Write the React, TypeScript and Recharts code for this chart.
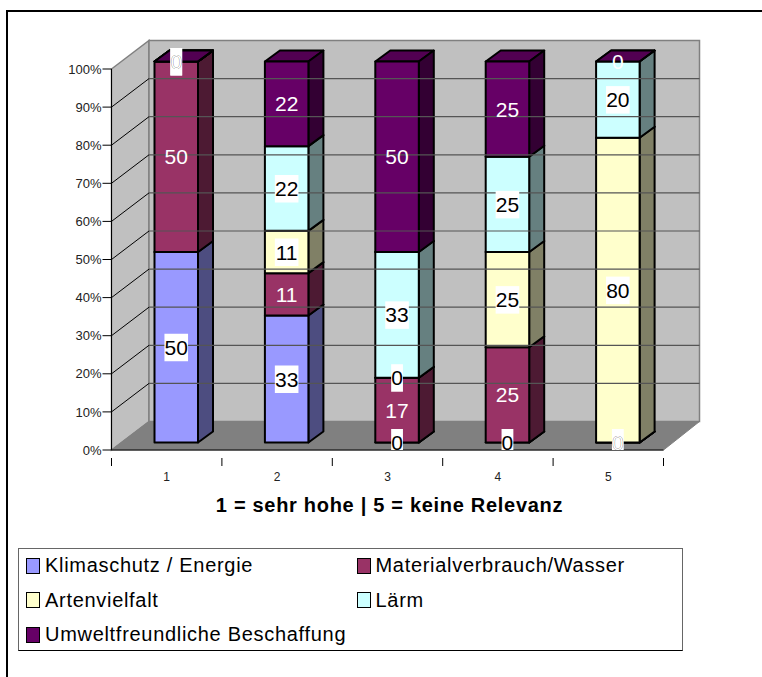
import { BarChart, Bar, XAxis, YAxis, ReferenceArea, ReferenceLine, LabelList, Legend } from "recharts";

const FONT = "'Liberation Sans', Arial, sans-serif";

const categories = ["1", "2", "3", "4", "5"];
const klima = [50, 33, 0, 0, 0];
const material = [50, 11, 17, 25, 0];
const arten = [0, 11, 0, 25, 80];
const laerm = [0, 22, 33, 25, 20];
const umwelt = [0, 22, 50, 25, 0];
const yTicks = [0, 0.1, 0.2, 0.3, 0.4, 0.5, 0.6, 0.7, 0.8, 0.9, 1];

const data = categories.map((name, i) => ({
  name,
  klima: klima[i],
  material: material[i],
  arten: arten[i],
  laerm: laerm[i],
  umwelt: umwelt[i],
}));

const SERIES = [
  { key: "klima", label: "Klimaschutz / Energie", fill: "#9999ff", side: "#4d4d80", top: "#4d4d80", boxed: true },
  { key: "material", label: "Materialverbrauch/Wasser", fill: "#993366", side: "#4d1a33", top: "#732650", boxed: false },
  { key: "arten", label: "Artenvielfalt", fill: "#ffffcc", side: "#808066", top: "#bfbf99", boxed: true },
  { key: "laerm", label: "Lärm", fill: "#ccffff", side: "#668080", top: "#99bfbf", boxed: true },
  { key: "umwelt", label: "Umweltfreundliche Beschaffung", fill: "#660066", side: "#330033", top: "#520052", boxed: false },
];

// 3D offsets
const WALL_DX = 37.5;
const WALL_DY = 28.5;
const WALL_RIGHT_TRIM = 1.5;
const BAR_SHIFT_X = 10;
const BAR_SHIFT_Y = 7.5;
const BAR_DX = 15;
const BAR_DY = 11;
const BAND = 110.4;
const FLOOR_Y = 450; // labels get cut off at the front edge of the floor

function Walls({ x, y, width, height }: any) {
  const r = x + width;
  const b = y + height;
  const backW = width - WALL_RIGHT_TRIM;
  return (
    <g>
      <polygon
        points={`${x},${y} ${x + WALL_DX},${y - WALL_DY} ${x + WALL_DX},${b - WALL_DY} ${x},${b}`}
        fill="#c0c0c0"
        stroke="#808080"
        strokeWidth={1.5}
      />
      <rect
        x={x + WALL_DX}
        y={y - WALL_DY}
        width={backW}
        height={height}
        fill="#c0c0c0"
        stroke="#808080"
        strokeWidth={1.5}
      />
      <polygon
        points={`${x},${b} ${x + WALL_DX},${b - WALL_DY} ${x + WALL_DX + backW},${b - WALL_DY} ${r},${b}`}
        fill="#808080"
        stroke="#808080"
      />
    </g>
  );
}

function GridLine3D({ x1, y1, x2 }: any) {
  const by = y1 - WALL_DY;
  const bx = x1 + WALL_DX;
  return (
    <g>
      <line x1={x1} y1={y1} x2={bx} y2={by} stroke="#000" strokeWidth={1} />
      <line x1={bx} y1={by} x2={x2 + WALL_DX - WALL_RIGHT_TRIM} y2={by} stroke="#555" strokeWidth={1.2} />
    </g>
  );
}

function Box3D({ x, y, width, height, fill, side, top }: any) {
  const l = x + BAR_SHIFT_X;
  const t = y - BAR_SHIFT_Y;
  const r = l + width;
  const b = t + height;
  return (
    <g stroke="#000" strokeWidth={2} strokeLinejoin="round">
      <polygon points={`${l},${t} ${r},${t} ${r + BAR_DX},${t - BAR_DY} ${l + BAR_DX},${t - BAR_DY}`} fill={top} />
      <polygon points={`${r},${t} ${r + BAR_DX},${t - BAR_DY} ${r + BAR_DX},${b - BAR_DY} ${r},${b}`} fill={side} />
      <rect x={l} y={t} width={width} height={height} fill={fill} />
    </g>
  );
}

function ValueLabel({ x, y, width, height, value, boxed }: any) {
  const cx = x + BAR_SHIFT_X + width / 2;
  const cy = y - BAR_SHIFT_Y + height / 2;
  const text = String(value);
  const w = text.length * 11.8;
  return (
    <g clipPath="url(#labelClip)">
      <defs>
        <clipPath id="labelClip">
          <rect x={0} y={0} width={762} height={FLOOR_Y} />
        </clipPath>
      </defs>
      {boxed && <rect x={cx - w / 2} y={cy - 13.5} width={w} height={27.5} fill="#fff" />}
      <text x={cx} y={cy + 7.5} textAnchor="middle" fontFamily={FONT} fontSize={21} fill={boxed ? "#000" : "#fff"}>
        {text}
      </text>
    </g>
  );
}

function XTick({ x, y, index, payload }: any) {
  const left = x - BAND / 2;
  const right = x + BAND / 2;
  return (
    <g>
      <line x1={left} y1={y} x2={left} y2={y + 8} stroke="#000" />
      {index === categories.length - 1 && <line x1={right} y1={y} x2={right} y2={y + 8} stroke="#000" />}
      <text x={x} y={y + 23} textAnchor="middle" fontFamily={FONT} fontSize={12} fill="#222">
        {payload.value}
      </text>
    </g>
  );
}

function LegendBox({ payload }: any) {
  return (
    <div
      style={{
        boxSizing: "border-box",
        width: 665,
        height: 103,
        border: "1px solid #666",
        borderBottomColor: "#000",
        background: "#fff",
        display: "grid",
        gridTemplateColumns: "330.5px 1fr",
        gridAutoRows: "34.5px",
        paddingLeft: 7,
        fontFamily: FONT,
        fontSize: 20,
        letterSpacing: 0.7,
        color: "#000",
      }}
    >
      {(payload || []).map((entry: any) => (
        <div key={entry.value} style={{ display: "flex", alignItems: "center", whiteSpace: "nowrap", marginTop: -1 }}>
          <span
            style={{
              boxSizing: "border-box",
              display: "inline-block",
              width: 14,
              height: 16,
              marginRight: 5,
              background: entry.color,
              border: "1.5px solid #000",
            }}
          />
          {entry.value}
        </div>
      ))}
    </div>
  );
}

export default function App() {
  return (
    <div style={{ position: "relative", width: 762, height: 677, overflow: "hidden" }}>
      <style>{"body{margin:0 !important;overflow:hidden}"}</style>
      <div
        style={{
          position: "absolute",
          left: 6,
          top: 10,
          width: 760,
          height: 670,
          borderTop: "2px solid #000",
          borderLeft: "2px solid #000",
        }}
      />
      <BarChart
        width={762}
        height={677}
        data={data}
        stackOffset="expand"
        barSize={43.5}
        margin={{ top: 69, right: 98.5, bottom: 64, left: 51.5 }}
        style={{ position: "absolute", left: 0, top: 0 }}
      >
        <ReferenceArea y1={0} y2={1} shape={<Walls />} ifOverflow="visible" />
        {yTicks.slice(1, -1).map((t) => (
          <ReferenceLine key={t} y={t} shape={<GridLine3D />} ifOverflow="visible" />
        ))}
        <XAxis
          dataKey="name"
          axisLine={{ stroke: "#000", strokeWidth: 1.2 }}
          tickLine={false}
          tick={<XTick />}
          height={60}
          interval={0}
          label={{
            value: "1 = sehr hohe | 5 = keine Relevanz",
            position: "insideBottom",
            offset: -2,
            dx: 2,
            fontFamily: FONT,
            fontSize: 20,
            letterSpacing: 0.7,
            fontWeight: "bold",
            fill: "#000",
          }}
        />
        <YAxis
          width={60}
          domain={[0, 1]}
          ticks={yTicks}
          tickFormatter={(v: number) => `${Math.round(v * 100)}%`}
          tickSize={9}
          tickMargin={1}
          axisLine={{ stroke: "#000" }}
          tickLine={{ stroke: "#000" }}
          tick={{ fontFamily: FONT, fontSize: 13, fill: "#222" }}
          interval={0}
        />
        {SERIES.map((s) => (
          <Bar
            key={s.key}
            dataKey={s.key}
            name={s.label}
            stackId="a"
            fill={s.fill}
            isAnimationActive={false}
            shape={(props: any) => <Box3D {...props} fill={s.fill} side={s.side} top={s.top} />}
          >
            <LabelList dataKey={s.key} content={(props: any) => <ValueLabel {...props} boxed={s.boxed} />} />
          </Bar>
        ))}
        <Legend
          itemSorter={null}
          verticalAlign="bottom"
          wrapperStyle={{ left: 18, top: 548, bottom: "auto", width: 665, height: 103 }}
          content={(props: any) => <LegendBox payload={props.payload} />}
        />
      </BarChart>
    </div>
  );
}
